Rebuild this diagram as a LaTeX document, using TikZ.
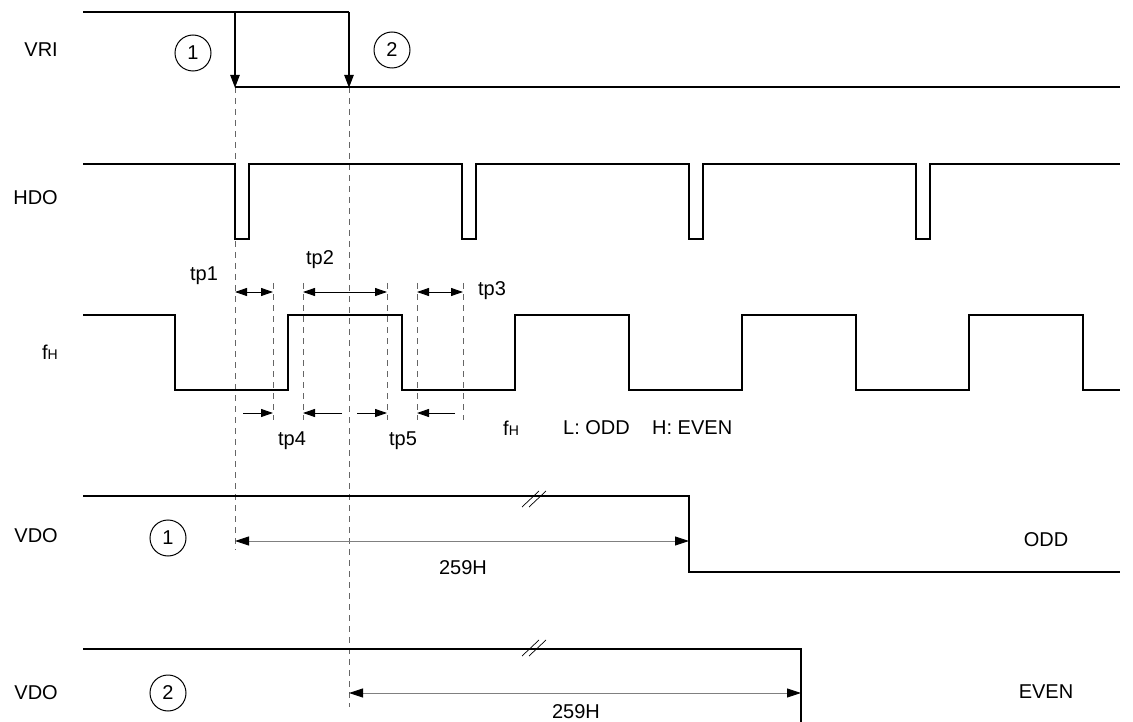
\documentclass[tikz,border=0pt]{standalone}
\usepackage{fontspec}
\setmainfont{Liberation Sans}
\usetikzlibrary{arrows.meta}
\begin{document}
\begin{tikzpicture}[x=1pt,y=-1pt,
  sig/.style={line width=2.4pt, line join=miter},
  guide/.style={line width=0.9pt, black!60, dash pattern=on 6pt off 5pt},
  tparrow/.style={line width=0.9pt, {Triangle[length=12pt,width=8pt]}-{Triangle[length=12pt,width=8pt]}},
  tphalf/.style={line width=0.9pt, -{Triangle[length=12pt,width=8pt]}},
  longdim/.style={line width=0.9pt, black!50, {Triangle[length=14pt,width=9pt,color=black]}-{Triangle[length=14pt,width=9pt,color=black]}},
  vriarrow/.style={line width=2.4pt, -{Triangle[length=13pt,width=9pt]}},
  brk/.style={line width=0.7pt},
  lbl/.style={font=\fontsize{20}{20}\selectfont, inner sep=0pt},
  sidelbl/.style={lbl, anchor=east},
  num/.style={circle, draw, line width=1pt, minimum size=36pt, inner sep=0pt, font=\fontsize{20}{20}\selectfont}]
\useasboundingbox (0,0) rectangle (1133,722);

% left labels
\node[sidelbl] (lvri) at (58,50) {VRI};
\node[sidelbl] (lhdo) at (58,198) {HDO};
\node[sidelbl] (lfh) at (58,352) {f{\fontsize{14}{14}\selectfont H}};
\node[sidelbl] (lvdo1) at (58,536) {VDO};
\node[sidelbl] (lvdo2) at (58,693) {VDO};

% guide lines
\draw[guide] (235,87) -- (235,550);
\draw[guide] (349,87) -- (349,707);
\foreach \gx in {273,303,387,417,463} \draw[guide] (\gx,283) -- (\gx,420);

% VRI
\draw[sig] (83,12) -- (349,12);
\draw[vriarrow] (235,12) -- (235,88);
\draw[vriarrow] (349,12) -- (349,88);
\draw[sig] (235,87) -- (1120,87);
\node[num] (c1a) at (193,53) {1};
\node[num] (c2a) at (392,50) {2};

% HDO
\draw[sig] (83,164)
  \foreach \px in {235,462,689,916} { -- (\px,164) -- (\px,239) -- (\px+14,239) -- (\px+14,164) }
  -- (1120,164);

% fH
\draw[sig] (83,315) -- (175,315) -- (175,390) -- (288,390) -- (288,315) -- (402,315)
  -- (402,390) -- (515,390) -- (515,315) -- (629,315) -- (629,390) -- (742,390)
  -- (742,315) -- (856,315) -- (856,390) -- (969,390) -- (969,315) -- (1083,315)
  -- (1083,390) -- (1120,390);

% tp arrows
\draw[tparrow] (235,292) -- (273,292);
\draw[tparrow] (303,292) -- (387,292);
\draw[tparrow] (417,292) -- (463,292);
\draw[tphalf] (243,413) -- (273,413);
\draw[tphalf] (342,413) -- (303,413);
\draw[tphalf] (357,413) -- (387,413);
\draw[tphalf] (455,413) -- (417,413);
\node[lbl] (tp1) at (204,276) {tp1};
\node[lbl] (tp2) at (320,260) {tp2};
\node[lbl] (tp3) at (492,291) {tp3};
\node[lbl] (tp4) at (292,441) {tp4};
\node[lbl] (tp5) at (403,441) {tp5};

\node[lbl, anchor=west] (fhn) at (503,428) {f{\fontsize{14}{14}\selectfont H}};
\node[lbl, anchor=west] (lodd) at (563,428) {L: ODD};
\node[lbl, anchor=west] (heven) at (652,428) {H: EVEN};

% VDO 1
\draw[sig] (83,496) -- (689,496) -- (689,572) -- (1120,572);
\draw[brk] (522,507) -- (539,491);
\draw[brk] (529,507) -- (546,491);
\node[num] (c1b) at (168,538) {1};
\draw[longdim] (235,541) -- (689,541);
\node[lbl] (h259a) at (463,568) {259H};
\node[lbl] (odd) at (1046,540) {ODD};

% VDO 2
\draw[sig] (83,649) -- (801,649) -- (801,722);
\draw[brk] (522,656) -- (539,640);
\draw[brk] (529,656) -- (546,640);
\node[num] (c2b) at (168,693) {2};
\draw[longdim] (349,693) -- (801,693);
\node[lbl] (h259b) at (576,712) {259H};
\node[lbl] (even) at (1046,692) {EVEN};
\end{tikzpicture}
\end{document}
